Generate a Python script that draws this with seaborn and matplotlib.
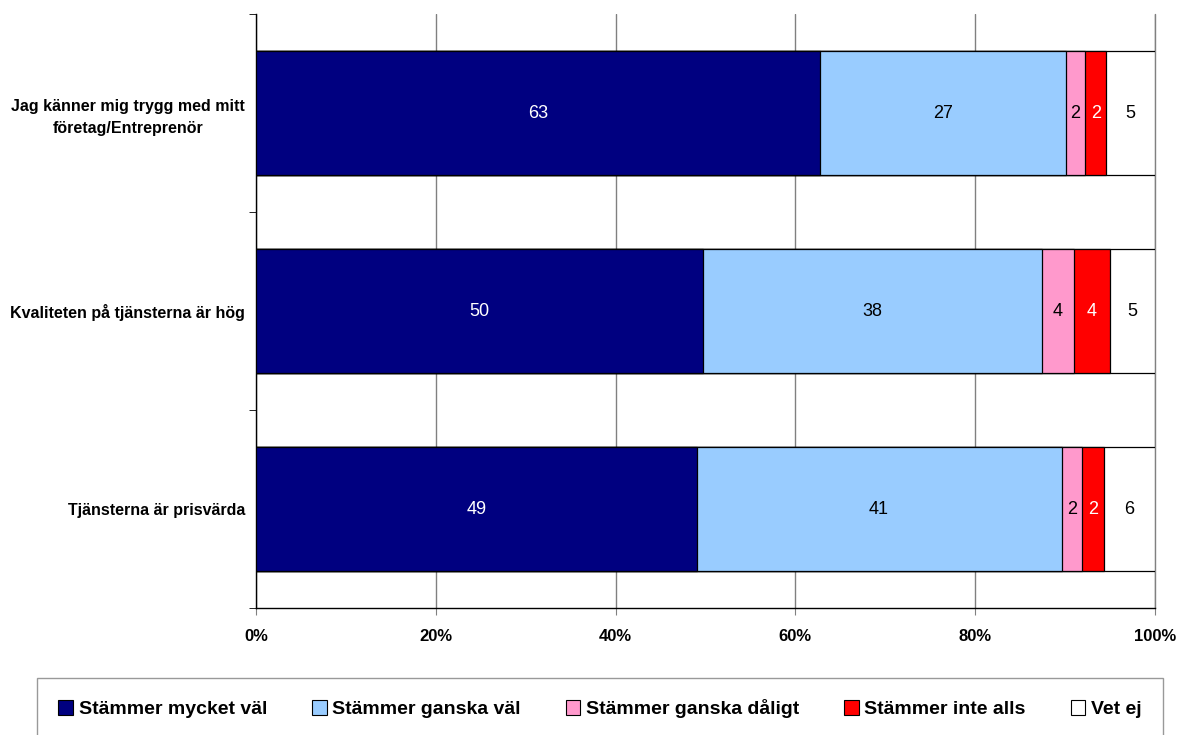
import pandas as pd
import seaborn as sns
import matplotlib.pyplot as plt
from matplotlib.patches import Patch
from matplotlib.ticker import PercentFormatter

# Values (percent)
statements = ['Jag känner mig trygg med mitt\nföretag/Entreprenör',
              'Kvaliteten på tjänsterna är hög',
              'Tjänsterna är prisvärda']
answers = ['Stämmer mycket väl', 'Stämmer ganska väl', 'Stämmer ganska dåligt',
           'Stämmer inte alls', 'Vet ej']
mycket_val = [62.7, 49.7, 49.0]
ganska_val = [27.4, 37.7, 40.6]
ganska_daligt = [2.1, 3.6, 2.3]
inte_alls = [2.4, 4.0, 2.4]
vet_ej = [5.4, 5.0, 5.7]

colors = ['#000080', '#99CCFF', '#FF99CC', '#FF0000', '#FFFFFF']
text_colors = ['white', 'black', 'black', 'white', 'black']

df = pd.DataFrame({'Påstående': statements})
for name, vals in zip(answers, [mycket_val, ganska_val, ganska_daligt, inte_alls, vet_ej]):
    df[name] = vals
cum = df[answers].cumsum(axis=1)

sns.set_style('white')
plt.rcParams['font.family'] = ['Liberation Sans', 'DejaVu Sans']
plt.rcParams['text.color'] = 'black'
plt.rcParams['xtick.color'] = 'black'
plt.rcParams['ytick.color'] = 'black'

fig = plt.figure(figsize=(11.78, 7.35), dpi=100)
ax = fig.add_axes([256 / 1178, 1 - 608 / 735, (1155 - 256) / 1178, (608 - 14) / 735])

# stacked bars: draw cumulative totals from the last answer back to the first
for name, color in reversed(list(zip(answers, colors))):
    sns.barplot(x=cum[name], y=df['Påstående'], orient='h', color=color,
                width=0.625, edgecolor='black', linewidth=0.9, saturation=1, ax=ax, zorder=3)

# value labels in the middle of each segment
for i in range(len(df)):
    for name, tc in zip(answers, text_colors):
        v = df.loc[i, name]
        ax.text(cum.loc[i, name] - v / 2, i, f'{v:.0f}', ha='center', va='center',
                color=tc, fontsize=13, zorder=4)

ax.set_xlim(0, 100)
ax.set_ylim(2.5, -0.5)
ax.set_xticks(range(0, 101, 20))
ax.xaxis.set_major_formatter(PercentFormatter(decimals=0))
ax.set_axisbelow(True)
ax.grid(axis='x', color='#808080', linewidth=1)
ax.axvline(100, color='#808080', linewidth=1, clip_on=False, zorder=1)
ax.set_xlabel('')
ax.set_ylabel('')

ax.set_yticks(range(len(statements)))
ax.set_yticklabels(statements, fontsize=11.5, fontweight='bold',
                   multialignment='center', linespacing=1.5)
ax.tick_params(axis='y', which='major', length=0, pad=8)
ax.set_yticks([-0.5, 0.5, 1.5, 2.5], minor=True)
ax.tick_params(axis='y', which='minor', length=5, color='black', direction='out', left=True)
ax.tick_params(axis='x', length=5, color='#808080', direction='out', bottom=True, pad=10)
for lab in ax.get_xticklabels():
    lab.set_fontweight('bold')
    lab.set_fontsize(12)

for s in ['top', 'right']:
    ax.spines[s].set_visible(False)
for s in ['left', 'bottom']:
    ax.spines[s].set_color('black')
    ax.spines[s].set_linewidth(1)

handles = [Patch(facecolor=c, edgecolor='black', linewidth=0.8) for c in colors]
leg = fig.legend(handles, answers, loc='upper center', ncol=5, mode='expand',
                 bbox_to_anchor=(37 / 1178, 57 / 735, (1163 - 37) / 1178, 0),
                 frameon=True, fancybox=False, edgecolor='#808080',
                 handlelength=0.75, handleheight=0.75, handletextpad=0.3,
                 borderpad=1.1, borderaxespad=0, prop={'weight': 'bold', 'size': 14})
leg.get_frame().set_linewidth(1)

fig.savefig('out.png', dpi=100)
